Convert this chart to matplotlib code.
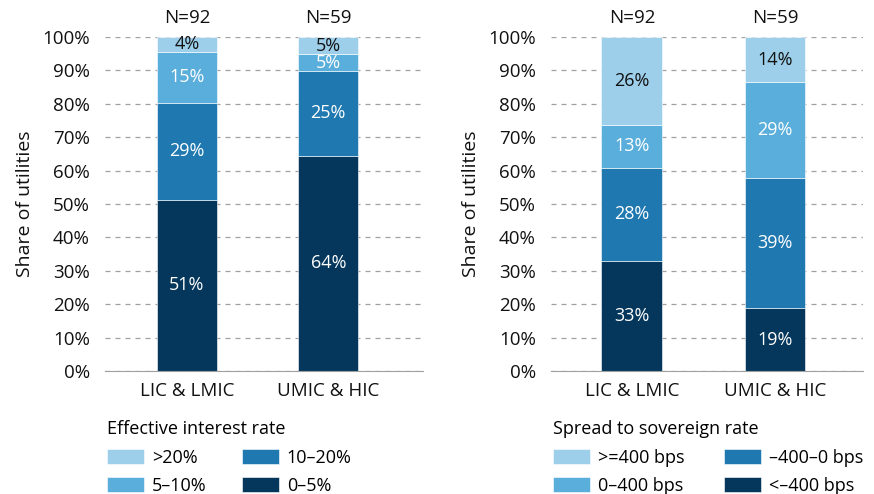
import matplotlib.pyplot as plt
import numpy as np

plt.rcParams['font.family'] = ['Open Sans', 'DejaVu Sans']

categories = ["LIC & LMIC", "UMIC & HIC"]
counts = ["N=92", "N=59"]

# effective interest rate shares (bottom to top)
rate_labels = ["0–5%", "10–20%", "5–10%", ">20%"]
rate_0_5 = [51.2, 64.4]
rate_10_20 = [29.1, 25.4]
rate_5_10 = [15.3, 5.1]
rate_20 = [4.4, 5.1]

# spread to sovereign rate shares (bottom to top)
spread_labels = ["<–400 bps", "–400–0 bps", "0–400 bps", ">=400 bps"]
spread_lt_m400 = [32.9, 18.8]
spread_m400_0 = [28.0, 39.0]
spread_0_400 = [12.9, 28.6]
spread_ge_400 = [26.2, 13.6]

colors = ["#04375b", "#1f78b0", "#5aaedb", "#9dcfeb"]
text_colors = ["white", "white", "white", "#111111"]


def stacked_panel(ax, series, labels, title, xlim, colsp):
    x = np.arange(len(categories))
    bottom = np.zeros(len(categories))
    handles = []
    for vals, lab, col, tcol in zip(series, labels, colors, text_colors):
        vals = np.array(vals)
        bars = ax.bar(x, vals, 0.425, bottom=bottom, color=col,
                      edgecolor="white", linewidth=0.4, zorder=3, label=lab)
        handles.append(bars)
        for xi, v, b in zip(x, vals, bottom):
            ax.text(xi, b + v / 2, f"{round(v)}%", ha="center", va="center",
                    color=tcol, fontsize=13, zorder=4)
        bottom += vals
    for xi, n in zip(x, counts):
        ax.text(xi, 103.0, n, ha="center", va="bottom", fontsize=13.5,
                color="#111111", clip_on=False)

    ax.set_ylim(0, 100)
    ax.set_xlim(*xlim)
    ax.set_yticks(np.arange(0, 101, 10))
    ax.set_yticklabels([f"{t}%" for t in range(0, 101, 10)])
    ax.set_xticks(x)
    ax.set_xticklabels(categories)
    ax.tick_params(axis="both", length=0, labelsize=13.5, colors="#111111")
    ax.tick_params(axis="y", pad=11)
    ax.tick_params(axis="x", pad=8)
    ax.yaxis.grid(True, color="#a0a0a0", linestyle=(0, (4, 4)),
                  linewidth=0.9, zorder=0)
    for s in ["top", "right", "left"]:
        ax.spines[s].set_visible(False)
    ax.spines["bottom"].set_color("#a0a0a0")
    ax.spines["bottom"].set_zorder(5)
    ax.set_ylabel("Share of utilities", fontsize=14, color="#111111",
                  labelpad=6)

    order = [3, 2, 1, 0]
    leg = ax.legend([handles[i] for i in order], [labels[i] for i in order],
                    ncol=2, loc="upper left", bbox_to_anchor=(0.005, -0.146),
                    frameon=False, title=title, alignment="left",
                    fontsize=13, title_fontsize=13, handlelength=2.05,
                    handleheight=0.9, handletextpad=0.45, columnspacing=colsp,
                    labelspacing=0.56, borderaxespad=0, borderpad=0)
    leg._legend_box.sep = 8


fig = plt.figure(figsize=(8.74, 4.94), dpi=100)
ax1 = fig.add_axes([105 / 874, 1 - 371 / 494, 318 / 874, 334 / 494])
ax2 = fig.add_axes([551 / 874, 1 - 371 / 494, 312 / 874, 334 / 494])

stacked_panel(ax1, [rate_0_5, rate_10_20, rate_5_10, rate_20], rate_labels,
              "Effective interest rate", (-0.58, 1.67), 1.95)
stacked_panel(ax2, [spread_lt_m400, spread_m400_0, spread_0_400, spread_ge_400],
              spread_labels, "Spread to sovereign rate", (-0.565, 1.615), 2.2)

fig.savefig("out.png", dpi=100)
